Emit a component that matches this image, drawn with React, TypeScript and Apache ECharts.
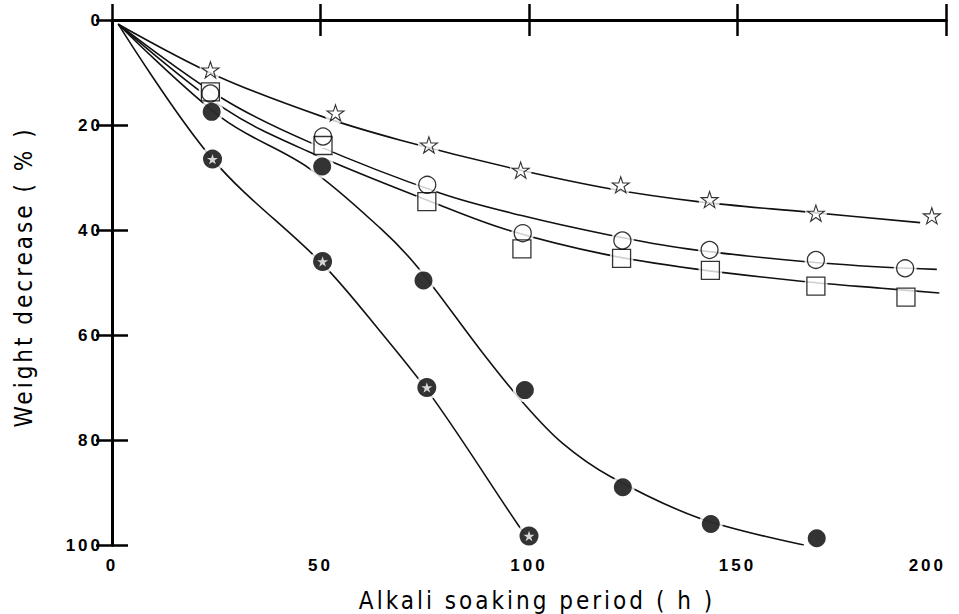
import React, { useEffect, useRef } from "react";
import * as echarts from "echarts";

// ---- data (x: hours, y: weight decrease %) ----
const xTickValues = [0, 50, 100, 150, 200];
const yTickValues = [0, 20, 40, 60, 80, 100];

const openStarPts = [[23.6, 9.5], [53.6, 17.7], [76, 23.8], [98, 28.6], [122, 31.4], [143.3, 34.2], [168.8, 36.8], [196.6, 37.3]];
const openCirclePts = [[23.6, 14], [50.6, 22.2], [75.6, 31.4], [98.5, 40.6], [122.4, 42], [143.3, 43.8], [168.8, 45.7], [190.2, 47.3]];
const squarePts = [[23.6, 13.7], [50.6, 23.9], [75.5, 34.6], [98.3, 43.6], [122.2, 45.4], [143.5, 47.7], [168.8, 50.7], [190.4, 52.8]];
const filledCirclePts = [[23.9, 17.5], [50.4, 27.9], [74.7, 49.6], [99, 70.5], [122.5, 89], [143.6, 96], [169, 98.7]];
const starFilledPts = [[24.1, 26.5], [50.5, 46], [75.5, 70], [100, 98.3]];

// fitted curves
const openStarCurve = [[1.5, 0.8], [25.6, 10.8], [50.8, 18.5], [69.2, 22.9], [95.7, 28.2], [119.7, 32.2], [140.5, 34.6], [166.9, 36.6], [193.8, 38.6]];
const openCircleCurve = [[1.5, 0.8], [26.8, 15.1], [48, 23.5], [78.8, 33], [98.5, 37.3], [118.9, 40.9], [138, 43.6], [164.5, 45.9], [185.4, 47.1], [197.8, 47.5]];
const squareCurve = [[1.5, 0.8], [26.8, 16.8], [47.2, 25.1], [78.4, 35.2], [94.9, 40], [118, 44.6], [139.7, 47.4], [165.8, 49.8], [184.6, 51.1], [198.4, 52]];
const filledCircleCurve = [[1.5, 0.8], [26.4, 18.7], [47.2, 28.2], [64.4, 39.7], [73.2, 47], [88.4, 62.9], [98.7, 73], [108, 80.6], [119.6, 87], [140.9, 94.9], [165.9, 100]];
const starFilledCurve = [[1.5, 0.8], [24.1, 26.5], [50.5, 46.5], [64.4, 59.4], [77.3, 72.4], [97.4, 96.2], [100, 99]];

const xTitle = "Alkali soaking period ( h )";
const yTitle = "Weight decrease ( % )";

const STAR =
  "path://M0,-1L0.2245,-0.309L0.951,-0.309L0.363,0.118L0.588,0.809L0,0.382L-0.588,0.809L-0.363,0.118L-0.951,-0.309L-0.2245,-0.309Z";

const TICK_FONT = "Liberation Sans";
const TITLE_FONT = "'DejaVu Sans Condensed', 'Liberation Sans Narrow', 'DejaVu Sans', sans-serif";

export default function App() {
  const ref = useRef<HTMLDivElement>(null);

  useEffect(() => {
    if (!ref.current) return;
    const chart = echarts.init(ref.current, undefined, { renderer: "svg" });

    const lineS = (data: number[][]) => ({
      type: "line",
      data,
      smooth: 0.35,
      symbol: "none",
      lineStyle: { color: "#111", width: 1.6 },
      z: 2,
      silent: true,
    });
    const maskS = (data: number[][], size: number) => ({
      type: "scatter",
      data,
      symbol: "circle",
      symbolSize: size,
      itemStyle: { color: "#ffffff" },
      z: 3,
      silent: true,
    });
    const markS = (data: number[][], symbol: string, size: number, fill: string, border: number, z = 4) => ({
      type: "scatter",
      data,
      symbol,
      symbolSize: size,
      symbolKeepAspect: true,
      itemStyle: { color: fill, borderColor: "#000", borderWidth: border },
      z,
      silent: true,
    });

    const axisCommon = {
      axisLine: { show: true, lineStyle: { color: "#000", width: 3 } },
      axisTick: { show: true, inside: true, length: 16, lineStyle: { color: "#000", width: 2.5 } },
      splitLine: { show: false },
      z: 10,
    };

    chart.setOption({
      animation: false,
      backgroundColor: "#fff",
      grid: { left: 112, right: 13, top: 20, bottom: 69, containLabel: false },
      xAxis: [
        {
          type: "value", min: 0, max: 200, interval: 50, position: "bottom",
          ...axisCommon,
          axisLabel: {
            color: "#000", fontSize: 17, fontWeight: "bold", fontFamily: TICK_FONT, margin: 12,
            customValues: xTickValues, alignMaxLabel: "right",
          },
        },
        {
          type: "value", min: 0, max: 200, interval: 50, position: "top",
          ...axisCommon,
          axisLabel: { show: false },
        },
      ],
      yAxis: [
        {
          type: "value", min: 0, max: 100, interval: 20, inverse: true, position: "left",
          ...axisCommon,
          axisLabel: {
            color: "#000", fontSize: 17, fontWeight: "bold", fontFamily: TICK_FONT, margin: 9,
            customValues: yTickValues,
          },
        },
        {
          type: "value", min: 0, max: 100, interval: 20, inverse: true, position: "right",
          ...axisCommon,
          axisLabel: { show: false },
        },
      ],
      graphic: [
        {
          type: "text", x: 537, y: 601,
          style: { text: xTitle, fontSize: 24, fontFamily: TITLE_FONT, fill: "#000", textAlign: "center", textVerticalAlign: "middle" },
        },
        {
          type: "text", x: 24, y: 277, rotation: Math.PI / 2,
          style: { text: yTitle, fontSize: 24, fontFamily: TITLE_FONT, fill: "#000", textAlign: "center", textVerticalAlign: "middle" },
        },
      ],
      series: [
        lineS(openStarCurve),
        lineS(openCircleCurve),
        lineS(squareCurve),
        lineS(filledCircleCurve),
        lineS(starFilledCurve),
        maskS(openStarPts, 22),
        maskS(openCirclePts, 23),
        maskS(squarePts, 24),
        maskS(filledCirclePts, 24),
        maskS(starFilledPts, 25),
        markS(squarePts, "rect", 18, "transparent", 1.3),
        markS(openCirclePts, "circle", 17, "transparent", 1.3),
        markS(openStarPts, STAR, 17, "transparent", 1.1),
        markS(filledCirclePts, "circle", 18, "#000", 0),
        markS(starFilledPts, "circle", 19, "#000", 0),
        markS(starFilledPts, STAR, 11, "#fff", 0, 5),
      ],
    });

    return () => chart.dispose();
  }, []);

  return (
    <>
      <style>{`.chart-root svg text { letter-spacing: 3px; }`}</style>
      <div
        ref={ref}
        className="chart-root"
        style={{ position: "fixed", left: 0, top: 0, width: 959, height: 614, background: "#fff" }}
      />
    </>
  );
}
